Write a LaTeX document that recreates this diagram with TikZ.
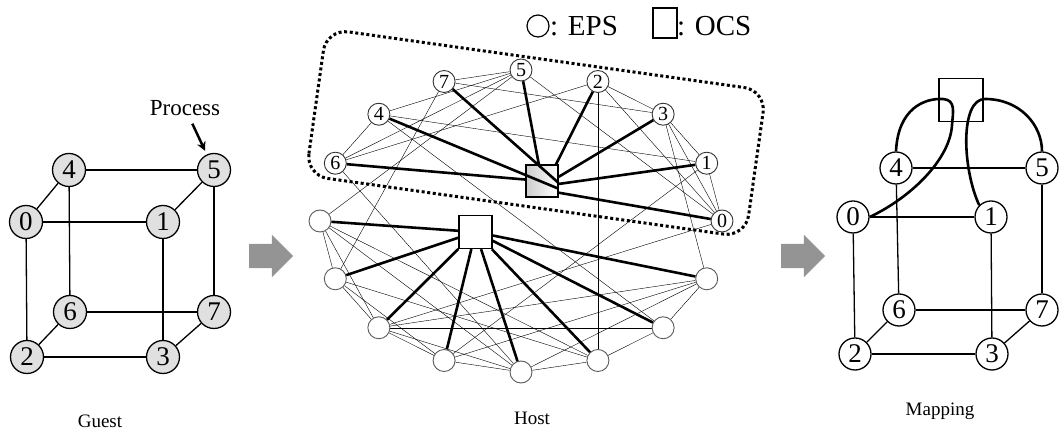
\documentclass[tikz,border=0pt]{standalone}
\usepackage{fontspec}
\setmainfont{Liberation Serif}
\usetikzlibrary{arrows.meta,shapes.arrows,backgrounds}

\begin{document}
\begin{tikzpicture}[x=1pt,y=1pt,
    gnode/.style={circle,draw,line width=1.3pt,fill=black!12,minimum size=33pt,inner sep=0pt,font=\fontsize{27}{27}\selectfont},
    mnode/.style={gnode,fill=white,minimum size=32pt},
    eps/.style={circle,draw=black!80,line width=0.9pt,fill=white,minimum size=22pt,inner sep=0pt,font=\fontsize{20}{20}\selectfont},
    ocs/.style={rectangle,draw,line width=1.4pt,fill=white,minimum size=32pt,inner sep=0pt},
    cubeline/.style={line width=1.3pt},
    wire/.style={line width=1pt,draw=black!72},
    optic/.style={line width=2.6pt},
    caption/.style={font=\fontsize{19}{19}\selectfont,anchor=base},
    legend/.style={font=\fontsize{29}{29}\selectfont,anchor=base west,inner sep=0pt},
    stage/.style={single arrow,fill=black!42,inner sep=12pt,minimum height=44pt,
      single arrow head extend=9pt,single arrow head indent=0pt}]
  \useasboundingbox (0,0) rectangle (1059,430);

  % guest cube
  \path
    (26,208) node[gnode] (g0){0}
    (163,208) node[gnode] (g1){1}
    (27,73) node[gnode] (g2){2}
    (163,73) node[gnode] (g3){3}
    (69,260) node[gnode] (g4){4}
    (214,260) node[gnode] (g5){5}
    (70,118) node[gnode] (g6){6}
    (214,118) node[gnode] (g7){7};
  \begin{scope}[cubeline]
    \draw (g0) to (g1);
    \draw (g0) to (g2);
    \draw (g0) to (g4);
    \draw (g1) to (g3);
    \draw (g1) to (g5);
    \draw (g2) to (g3);
    \draw (g2) to (g6);
    \draw (g3) to (g7);
    \draw (g4) to (g5);
    \draw (g4) to (g6);
    \draw (g5) to (g7);
    \draw (g6) to (g7);
  \end{scope}
  \node[font=\fontsize{23}{23}\selectfont] (process) at (185,322) {Process};
  \draw[line width=2.5pt,-{Stealth[length=9pt,width=9pt]},shorten <=5pt,shorten >=4pt] (process) -- (g5);
  \node[caption] (guest) at (100,2) {Guest};

  \node[stage] (step1) at (265,174) {};
  \node[stage] (step2) at (797,174) {};

  % host: EPS ring with two OCS
  \begin{scope}[shift={(521,209)}]
    \path
      (0:201 and 151) node[eps] (h0){0}
      (22.5:201 and 151) node[eps] (h1){1}
      (45:201 and 151) node[eps] (h3){3}
      (67.5:201 and 151) node[eps] (h2){2}
      (90:201 and 151) node[eps] (h5){5}
      (112.5:201 and 151) node[eps] (h7){7}
      (135:201 and 151) node[eps] (h4){4}
      (157.5:201 and 151) node[eps] (h6){6};
    \foreach \k in {1,...,8}
      \path ({157.5+22.5*\k}:201 and 151) node[eps,draw=black!65] (u\k){};
    \node[ocs,left color=black!20,right color=white] (ocsa) at (21,40) {};
    \node[ocs,minimum size=33pt] (ocsb) at (-45.5,-11) {};
  \end{scope}
  \begin{scope}[on background layer,wire]
    \draw (h7) to (h5);
    \draw (h4) to (h5);
    \draw (h4) to (h6);
    \draw (h7) to (h3);
    \draw (h4) to (h1);
    \draw (h6) to (h2);
    \draw (h6) to (h5);
    \draw (h5) to (h0);
    \draw (h2) to (h3);
    \draw (h2) to (h0);
    \draw (h3) to (h1);
    \draw (h3) to (h0);
    \draw (h1) to (h0);
    \draw (h2) to (u6);
    \draw (h3) to (u8);
    \draw (h1) to (u4);
    \draw (h0) to (u3);
    \draw (h4) to (u7);
    \draw (h6) to (u5);
    \draw (h7) to (u2);
    \draw (h5) to (u1);
    \draw (u1) to (u2);
    \draw (u1) to (u3);
    \draw (u1) to (u5);
    \draw (u1) to (u6);
    \draw (u2) to (u3);
    \draw (u2) to (u4);
    \draw (u2) to (u6);
    \draw (u3) to (u4);
    \draw (u3) to (u7);
    \draw (u3) to (u8);
    \draw (u3) to (u5);
    \draw (u4) to (u5);
    \draw (u4) to (u8);
    \draw (u5) to (u6);
    \draw (u5) to (u8);
    \draw (u6) to (u7);
    \draw (u7) to (u8);
  \end{scope}
  \begin{scope}[optic]
    \draw (h6) to (ocsa);
    \draw (h4) to (ocsa.-25);
    \draw (h7) to (ocsa.-7);
    \draw (h5) to (ocsa);
    \draw (h2) to (ocsa.50);
    \draw (h3) to (ocsa.14);
    \draw (h1) to (ocsa.-10);
    \draw (h0) to (ocsa.-35);
    \foreach \k in {1,...,8}
      \draw (u\k) to (ocsb);
  \end{scope}
  \draw[line width=3pt,dash pattern=on 3pt off 2.6pt,rounded corners=22pt,
    rotate around={-8:(536,297)}] (314,223) rectangle (758,371);
  \node[caption] (host) at (532,5) {Host};

  % legend
  \node[circle,draw,line width=1.2pt,minimum size=22pt,inner sep=0pt] (epsmark) at (538,404) {};
  \node[legend] (epstext) at (550,394) {: EPS};
  \node[draw,line width=1.2pt,minimum width=24pt,minimum height=30pt,inner sep=0pt] (ocsmark) at (665,407) {};
  \node[legend] (ocstext) at (677,394) {: OCS};

  % mapping
  \path
    (853,213) node[mnode] (m0){0}
    (991,213) node[mnode] (m1){1}
    (855,76) node[mnode] (m2){2}
    (992,76) node[mnode] (m3){3}
    (896,262) node[mnode] (m4){4}
    (1042,262) node[mnode] (m5){5}
    (899,120) node[mnode] (m6){6}
    (1042,120) node[mnode] (m7){7};
  \begin{scope}[cubeline]
    \draw (m0) to (m1);
    \draw (m0) to (m2);
    \draw (m1) to (m3);
    \draw (m2) to (m3);
    \draw (m2) to (m6);
    \draw (m3) to (m7);
    \draw (m4) to (m5);
    \draw (m4) to (m6);
    \draw (m5) to (m7);
    \draw (m6) to (m7);
  \end{scope}
  \node[draw,line width=1.2pt,minimum width=44pt,minimum height=43pt,inner sep=0pt] (ocsm) at (961,330) {};
  \draw[optic] (m4.north) .. controls (898,322) and (925,332) .. (943,331)
    .. controls (956,330) and (953,318) .. (952,305)
    .. controls (950,270) and (910,232) .. (m0.east);
  \draw[optic] (m1.north west) .. controls (962,262) and (960,331) .. (985,331)
    .. controls (1020,331) and (1042,305) .. (m5.north);
  \node[caption] (mapping) at (940,14) {Mapping};
\end{tikzpicture}
\end{document}
